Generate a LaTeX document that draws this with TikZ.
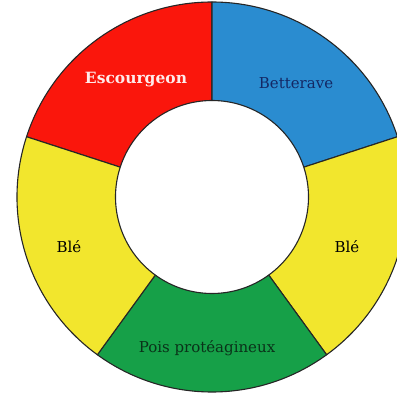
\documentclass[tikz,border=0pt]{standalone}
\usepackage{fontspec}
\setmainfont{DejaVu Serif}
\definecolor{cred}{RGB}{250,22,12}
\definecolor{cblue}{RGB}{42,140,208}
\definecolor{cyellow}{RGB}{242,230,45}
\definecolor{cgreen}{RGB}{22,160,72}
\definecolor{cnavy}{RGB}{20,40,100}
\definecolor{cdkgreen}{RGB}{10,50,25}
\tikzset{
  sector/.style={draw=black!85, line width=1.1pt, line join=round},
  lbl/.style={inner sep=0pt, font=\fontsize{15}{17}\selectfont}
}
\begin{document}
\begin{tikzpicture}[x=1pt,y=1pt]
\useasboundingbox (0,0) rectangle (397,-395);
\clip (0,0) rectangle (397,-395);
\fill[white] (0,0) rectangle (397,-395);
\begin{scope}[shift={(212,-197)}]
\def\R{195}\def\r{96.5}
\foreach \a/\b/\c in {90/162/cred, 18/90/cblue, -54/18/cyellow, 234/306/cgreen, 162/234/cyellow}{
  \draw[sector, fill=\c] (\a:\R) arc[start angle=\a, end angle=\b, radius=\R]
    -- (\b:\r) arc[start angle=\b, end angle=\a, radius=\r] -- cycle;
}
\end{scope}
\node[lbl, text=white!92!red, font=\bfseries\fontsize{15.5}{17}\selectfont] (esc) at (136,-80) {Escourgeon};
\node[lbl, text=cnavy] (bet) at (296,-83) {Betterave};
\node[lbl, text=black] (bl1) at (69,-247) {Blé};
\node[lbl, text=black] (bl2) at (347,-247) {Blé};
\node[lbl, text=cdkgreen] (pois) at (207,-348) {Pois protéagineux};
\end{tikzpicture}
\end{document}
